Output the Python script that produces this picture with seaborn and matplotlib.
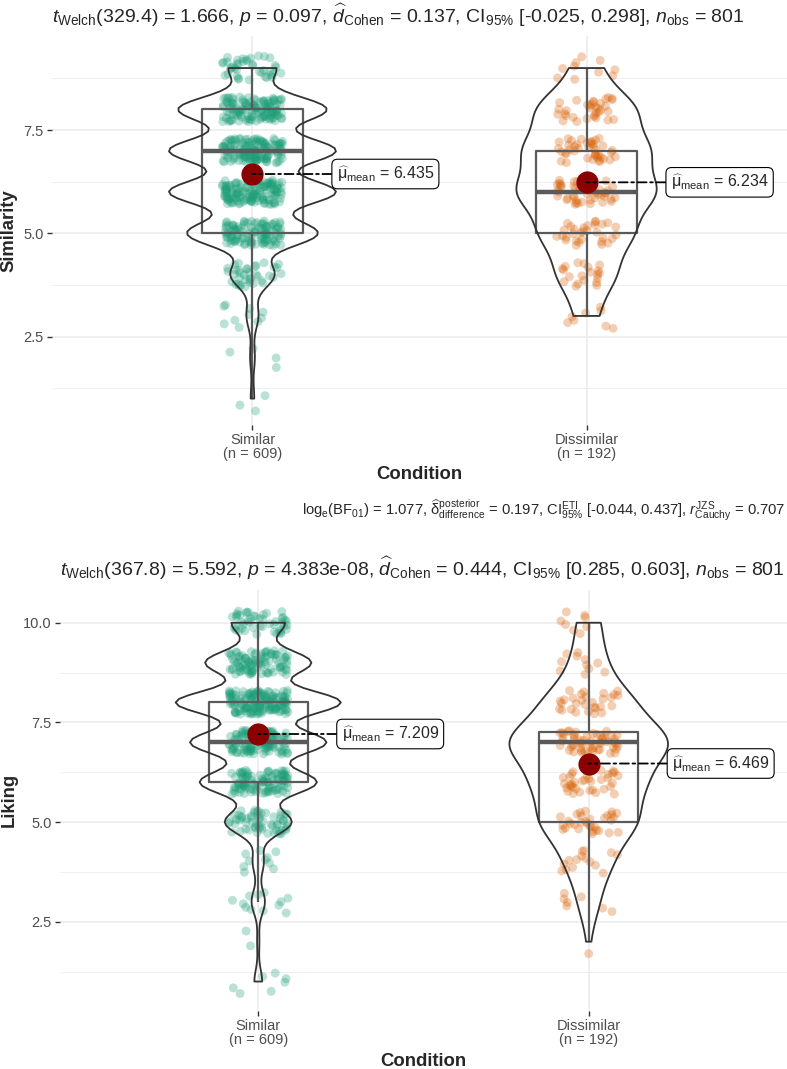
import numpy as np
import pandas as pd
import matplotlib.pyplot as plt
import seaborn as sns
from matplotlib.ticker import MultipleLocator

# data: counts per response level
conditions = ["Similar", "Dissimilar"]
colors = ["#1B9E77", "#D95F02"]

similarity_levels = [1, 2, 3, 4, 5, 6, 7, 8, 9]
similarity_similar_counts = [3, 4, 10, 37, 110, 140, 140, 125, 40]
similarity_dissimilar_counts = [0, 0, 8, 20, 31, 47, 42, 34, 10]
similarity_means = [6.435, 6.234]

liking_levels = [1, 2, 3, 4, 5, 6, 7, 8, 9, 10]
liking_similar_counts = [7, 2, 12, 10, 60, 105, 122, 148, 95, 48]
liking_dissimilar_counts = [0, 1, 7, 15, 32, 35, 54, 29, 11, 8]
liking_means = [7.209, 6.469]

title_similarity = (r"$t_{\mathrm{Welch}}$(329.4) = 1.666, $p$ = 0.097, "
                    r"$\widehat{d}_{\mathrm{Cohen}}$ = 0.137, CI$_{95\%}$ [-0.025, 0.298], "
                    r"$n_{\mathrm{obs}}$ = 801")
caption_similarity = (r"log$_{\mathrm{e}}$(BF$_{01}$) = 1.077, "
                      r"$\widehat{\mathrm{\delta}}_{\mathrm{difference}}^{\mathrm{posterior}}$ = 0.197, "
                      r"CI$_{95\%}^{\mathrm{ETI}}$ [-0.044, 0.437], "
                      r"$r_{\mathrm{Cauchy}}^{\mathrm{JZS}}$ = 0.707")
title_liking = (r"$t_{\mathrm{Welch}}$(367.8) = 5.592, $p$ = 4.383e-08, "
                r"$\widehat{d}_{\mathrm{Cohen}}$ = 0.444, CI$_{95\%}$ [0.285, 0.603], "
                r"$n_{\mathrm{obs}}$ = 801")

sns.set_theme(style="white")
plt.rcParams["font.family"] = ["Liberation Sans", "DejaVu Sans"]
plt.rcParams["mathtext.fontset"] = "custom"
plt.rcParams["mathtext.rm"] = "Liberation Sans"
plt.rcParams["mathtext.it"] = "Liberation Sans:italic"
plt.rcParams["mathtext.bf"] = "Liberation Sans:bold"
np.random.seed(3)


def build_frame(levels, counts_list):
    rows = []
    for cond, counts in zip(conditions, counts_list):
        vals = np.repeat(levels, counts).astype(float)
        n = len(vals)
        # vertical jitter for display only (like geom_jitter height)
        shift = ((np.arange(n) * 0.6180339887) % 1 - 0.5) * 0.6
        rows.append(pd.DataFrame({"Condition": cond, "value": vals, "shown": vals + shift}))
    return pd.concat(rows, ignore_index=True)


def draw_panel(ax, df, means, ylabel, ylim, violin_widths, violin_bw):
    sns.stripplot(data=df, x="Condition", y="shown", hue="Condition", order=conditions,
                  hue_order=conditions, palette=colors, jitter=0.09, size=6.4, alpha=0.3,
                  linewidth=0, legend=False, ax=ax, zorder=2)
    sns.boxplot(data=df, x="Condition", y="value", order=conditions, width=0.3, fill=False,
                color="#5A5A5A", linewidth=1.6, showfliers=False, showcaps=False,
                medianprops={"linewidth": 3.2}, ax=ax, zorder=3)
    for c, w, bw in zip(conditions, violin_widths, violin_bw):
        sns.violinplot(data=df[df["Condition"] == c], x="Condition", y="value",
                       order=conditions, width=w, cut=0, inner=None, fill=False,
                       color="#333333", linewidth=1.3, bw_adjust=bw, ax=ax, zorder=4)
    sns.stripplot(x=conditions, y=means, order=conditions, jitter=False, color="#8B0000",
                  size=16, linewidth=0, ax=ax, zorder=10)
    for i, m in enumerate(means):
        ax.annotate(r"$\widehat{\mathrm{\mu}}_{\mathrm{mean}}$" + f" = {m:.3f}",
                    xy=(i, m), xytext=(i + 0.252, m), ha="left", va="center", fontsize=11.5,
                    bbox=dict(boxstyle="round,pad=0.3,rounding_size=0.35", fc="white",
                              ec="black", lw=0.8),
                    arrowprops=dict(arrowstyle="-", color="black", lw=1.3,
                                    linestyle=(0, (5, 2, 1.5, 2)), shrinkA=0, shrinkB=0),
                    zorder=11)

    ns = df.groupby("Condition")["value"].size()
    ax.set_xticks([0, 1])
    ax.set_xticklabels([f"{c}\n(n = {ns[c]})" for c in conditions], linespacing=1.0)
    ax.set_xlim(-0.6, 1.6)
    ax.set_ylim(*ylim)
    ax.yaxis.set_major_locator(MultipleLocator(2.5))
    ax.yaxis.set_minor_locator(MultipleLocator(1.25))
    ax.yaxis.set_major_formatter(plt.FormatStrFormatter("%.1f"))
    ax.grid(True, which="major", color="#EBEBEB", linewidth=1.1)
    ax.grid(True, which="minor", axis="y", color="#EBEBEB", linewidth=0.6)
    ax.set_axisbelow(True)
    for s in ax.spines.values():
        s.set_visible(False)
    ax.tick_params(axis="both", which="major", length=3.5, width=1.0, color="#333333",
                   labelsize=10.5, labelcolor="#4D4D4D", pad=2.5, left=True, bottom=True)
    ax.tick_params(axis="y", which="minor", length=0)
    ax.set_xlabel("Condition", fontsize=13.3, fontweight="bold", labelpad=4)
    ax.set_ylabel(ylabel, fontsize=13.3, fontweight="bold", labelpad=4)


fig = plt.figure(figsize=(7.87, 10.69), dpi=100)
ax1 = fig.add_axes([0.0661, 0.6028, 0.9339, 0.3637])
ax2 = fig.add_axes([0.0762, 0.0546, 0.9238, 0.3938])

sim_df = build_frame(similarity_levels, [similarity_similar_counts, similarity_dissimilar_counts])
lik_df = build_frame(liking_levels, [liking_similar_counts, liking_dissimilar_counts])

draw_panel(ax1, sim_df, similarity_means, "Similarity", (0.37, 9.78), (0.5, 0.42), (0.75, 0.92))
draw_panel(ax2, lik_df, liking_means, "Liking", (0.27, 10.83), (0.5, 0.48), (0.62, 0.92))

fig.text(52 / 787, 1 - 15 / 1069, title_similarity, ha="left", va="center", fontsize=14)
fig.text(785 / 787, 1 - 510 / 1069, caption_similarity, ha="right", va="center", fontsize=10.6)
fig.text(60 / 787, 1 - 568 / 1069, title_liking, ha="left", va="center", fontsize=14)

fig.savefig("out.png", dpi=100)
